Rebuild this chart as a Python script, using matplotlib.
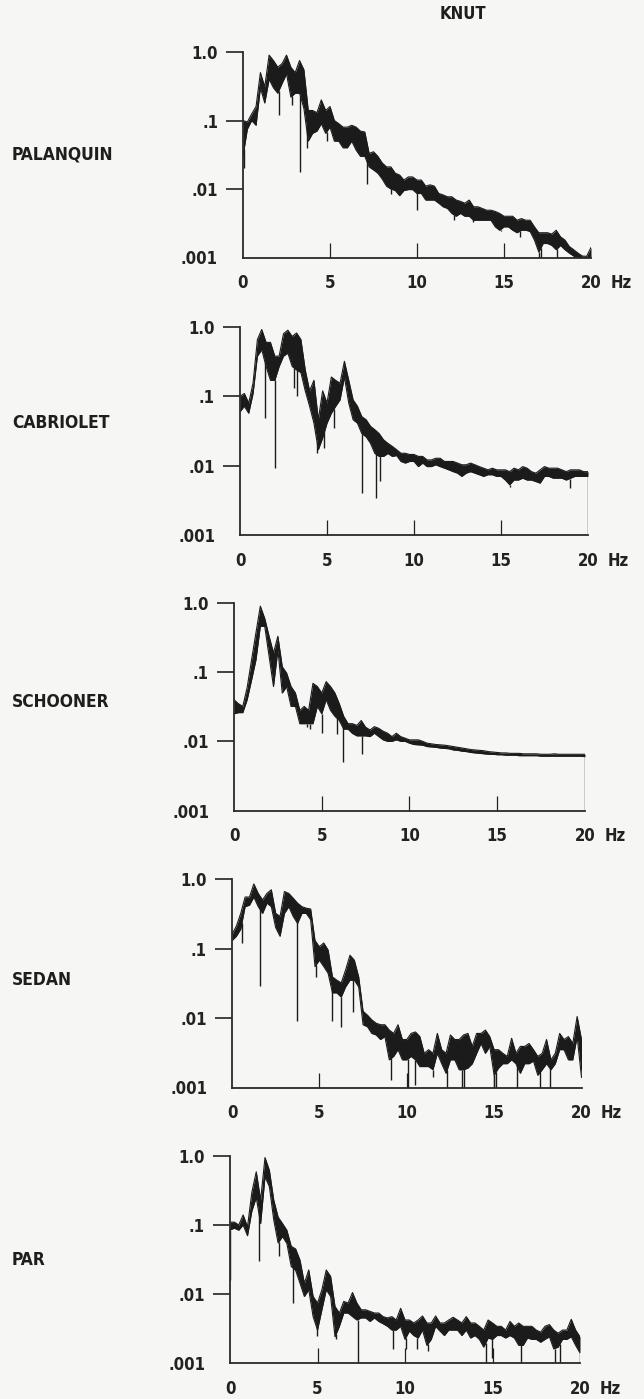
import numpy as np
import matplotlib.pyplot as plt
from matplotlib.ticker import NullLocator

plt.rcParams['font.family'] = ['DejaVu Sans']
plt.rcParams['font.stretch'] = 'condensed'
plt.rcParams['font.weight'] = 'bold'

INK = '#1b1b1b'
PAPER = '#f6f6f4'

# spectra sampled every 0.25 Hz from 0 to 20 Hz (one row per Hz)
freq = np.arange(81) * 0.25

palanquin_hi = [0.10, 0.095, 0.125, 0.16,
                0.50, 0.31, 0.90, 0.75,
                0.60, 0.68, 0.90, 0.60,
                0.50, 0.75, 0.55, 0.14,
                0.14, 0.13, 0.20, 0.14,
                0.16, 0.10, 0.09, 0.08,
                0.08, 0.085, 0.08, 0.07,
                0.068, 0.033, 0.035, 0.030,
                0.024, 0.021, 0.021, 0.017,
                0.016, 0.0135, 0.015, 0.015,
                0.0135, 0.0135, 0.011, 0.0115,
                0.011, 0.0086, 0.0082, 0.0077,
                0.0077, 0.0069, 0.0066, 0.0062,
                0.0069, 0.0055, 0.0055, 0.0052,
                0.0049, 0.0049, 0.0047, 0.0044,
                0.0040, 0.0040, 0.0040, 0.0035,
                0.0037, 0.0035, 0.0035, 0.0028,
                0.0023, 0.0023, 0.0023, 0.0022,
                0.0025, 0.0020, 0.0018, 0.00145,
                0.0013, 0.00116, 0.00105, 0.00104,
                0.0014]
palanquin_lo = [0.03, 0.075, 0.10, 0.085,
                0.30, 0.18, 0.40, 0.30,
                0.25, 0.35, 0.48, 0.22,
                0.25, 0.25, 0.15, 0.05,
                0.065, 0.07, 0.09, 0.065,
                0.08, 0.05, 0.05, 0.04,
                0.04, 0.05, 0.037, 0.03,
                0.03, 0.021, 0.019, 0.017,
                0.014, 0.011, 0.010, 0.0095,
                0.008, 0.0095, 0.0098, 0.0098,
                0.0086, 0.0086, 0.0069, 0.0069,
                0.0069, 0.0062, 0.0055, 0.0052,
                0.0044, 0.0040, 0.0044, 0.0040,
                0.0040, 0.0035, 0.0035, 0.0035,
                0.0035, 0.0035, 0.0028, 0.0025,
                0.0028, 0.0028, 0.0025, 0.0023,
                0.0025, 0.0025, 0.0024, 0.0018,
                0.0012, 0.0016, 0.0016, 0.0015,
                0.0013, 0.0015, 0.0013, 0.00116,
                0.00105, 0.001, 0.001, 0.001,
                0.001]
palanquin_dip_f = [0.05, 2.05, 2.8, 3.3, 3.65, 4.8, 7.1, 8.5, 10.0, 12.1,
                   13.2, 14.8, 15.9, 17.0, 17.1, 18.05, 19.0]
palanquin_dip_v = [0.02, 0.12, 0.17, 0.018, 0.04, 0.05, 0.012, 0.0085, 0.0049, 0.0035,
                   0.0033, 0.0024, 0.002, 0.001, 0.001, 0.001, 0.001]

cabriolet_hi = [0.10, 0.11, 0.08, 0.155,
                0.66, 0.92, 0.60, 0.60,
                0.38, 0.38, 0.80, 0.90,
                0.73, 0.82, 0.66, 0.24,
                0.12, 0.17, 0.046, 0.12,
                0.08, 0.19, 0.17, 0.155,
                0.32, 0.17, 0.089, 0.072,
                0.051, 0.046, 0.037, 0.033,
                0.029, 0.0236, 0.021, 0.019,
                0.017, 0.0151, 0.0151, 0.0145,
                0.0145, 0.0136, 0.0136, 0.0121,
                0.0121, 0.0128, 0.0128, 0.0115,
                0.0115, 0.0115, 0.0109, 0.0103,
                0.0103, 0.0109, 0.0103, 0.0097,
                0.0092, 0.0087, 0.0092, 0.0087,
                0.0087, 0.0087, 0.0082, 0.0092,
                0.0087, 0.0097, 0.0092, 0.0082,
                0.0078, 0.0087, 0.0097, 0.0092,
                0.0092, 0.0092, 0.0087, 0.0082,
                0.0087, 0.0087, 0.0087, 0.0082,
                0.0082]
cabriolet_lo = [0.06, 0.072, 0.057, 0.11,
                0.38, 0.47, 0.27, 0.17,
                0.17, 0.27, 0.38, 0.42,
                0.27, 0.24, 0.22, 0.12,
                0.072, 0.041, 0.017, 0.025,
                0.041, 0.057, 0.072, 0.089,
                0.19, 0.08, 0.046, 0.041,
                0.029, 0.026, 0.021, 0.015,
                0.0136, 0.0136, 0.015, 0.0136,
                0.014, 0.0115, 0.0109, 0.0115,
                0.0115, 0.0097, 0.0109, 0.0097,
                0.0097, 0.0103, 0.0097, 0.0092,
                0.0087, 0.0082, 0.0078, 0.0070,
                0.0078, 0.0082, 0.0078, 0.0074,
                0.0070, 0.0074, 0.0074, 0.0070,
                0.0070, 0.0062, 0.0053, 0.0062,
                0.0062, 0.0066, 0.0062, 0.0062,
                0.0059, 0.0056, 0.0070, 0.0070,
                0.0066, 0.0066, 0.0066, 0.0062,
                0.0066, 0.0070, 0.0070, 0.0070,
                0.0070]
cabriolet_dip_f = [1.45, 2.0, 3.1, 3.3, 4.45, 4.85, 5.4, 7.0, 7.8, 8.05,
                   15.5, 18.95, 20.0]
cabriolet_dip_v = [0.048, 0.0093, 0.13, 0.1, 0.015, 0.018, 0.035, 0.004, 0.0034, 0.006,
                   0.005, 0.0047, 0.001]

schooner_hi = [0.04, 0.035, 0.032, 0.06,
               0.15, 0.37, 0.90, 0.60,
               0.33, 0.19, 0.33, 0.12,
               0.097, 0.062, 0.050, 0.028,
               0.032, 0.028, 0.069, 0.062,
               0.050, 0.073, 0.062, 0.050,
               0.035, 0.023, 0.018, 0.018,
               0.017, 0.020, 0.016, 0.0146,
               0.0163, 0.0154, 0.0140, 0.0131,
               0.0117, 0.0131, 0.0117, 0.0111,
               0.0105, 0.0105, 0.0105, 0.0100,
               0.0094, 0.0092, 0.0090, 0.0089,
               0.0088, 0.0086, 0.0084, 0.0082,
               0.0080, 0.0078, 0.0076, 0.0075,
               0.0074, 0.0073, 0.0071, 0.0070,
               0.0069, 0.0068, 0.0068, 0.0067,
               0.0067, 0.0067, 0.0066, 0.0066,
               0.0066, 0.0066, 0.0065, 0.0065,
               0.0065, 0.0066, 0.0065, 0.0065,
               0.0065, 0.0065, 0.0065, 0.0065,
               0.0065]
schooner_lo = [0.025, 0.026, 0.026, 0.04,
               0.077, 0.15, 0.46, 0.46,
               0.17, 0.062, 0.21, 0.05,
               0.062, 0.032, 0.032, 0.018,
               0.018, 0.018, 0.018, 0.032,
               0.025, 0.040, 0.028, 0.023,
               0.020, 0.015, 0.015, 0.013,
               0.012, 0.012, 0.012, 0.0117,
               0.0131, 0.0117, 0.0105, 0.010,
               0.010, 0.0105, 0.010, 0.010,
               0.0094, 0.0090, 0.0089, 0.0088,
               0.0084, 0.0083, 0.0082, 0.0080,
               0.0079, 0.0078, 0.0075, 0.0074,
               0.0072, 0.0071, 0.0069, 0.0068,
               0.0067, 0.0066, 0.0065, 0.0065,
               0.0064, 0.0064, 0.0063, 0.0063,
               0.0063, 0.0062, 0.0062, 0.0062,
               0.0062, 0.0062, 0.0061, 0.0061,
               0.0061, 0.0061, 0.0061, 0.0061,
               0.0061, 0.0061, 0.0061, 0.0061,
               0.0060]
schooner_dip_f = [4.15, 4.35, 5.0, 5.85, 6.2, 7.3, 20.0]
schooner_dip_v = [0.016, 0.015, 0.013, 0.0126, 0.005, 0.0065, 0.001]

sedan_hi = [0.16, 0.21, 0.32, 0.55,
            0.55, 0.85, 0.62, 0.50,
            0.62, 0.70, 0.32, 0.29,
            0.66, 0.62, 0.53, 0.45,
            0.40, 0.38, 0.37, 0.13,
            0.106, 0.12, 0.095, 0.039,
            0.035, 0.032, 0.049, 0.080,
            0.068, 0.039, 0.0125, 0.011,
            0.0094, 0.0084, 0.0080, 0.0080,
            0.0067, 0.0060, 0.0080, 0.0049,
            0.0049, 0.0060, 0.0063, 0.0054,
            0.0031, 0.0035, 0.0031, 0.0060,
            0.0035, 0.0031, 0.0057, 0.0049,
            0.0049, 0.0057, 0.0060, 0.0039,
            0.0060, 0.0060, 0.0067, 0.0054,
            0.0035, 0.0035, 0.0031, 0.0028,
            0.0051, 0.0031, 0.0039, 0.0039,
            0.0043, 0.0035, 0.0028, 0.0031,
            0.0049, 0.0025, 0.0031, 0.0060,
            0.0049, 0.0054, 0.0043, 0.0105,
            0.0049]
sedan_lo = [0.13, 0.15, 0.19, 0.40,
            0.42, 0.55, 0.40, 0.32,
            0.45, 0.40, 0.20, 0.15,
            0.32, 0.40, 0.29, 0.23,
            0.32, 0.32, 0.26, 0.055,
            0.068, 0.055, 0.044, 0.023,
            0.023, 0.020, 0.028, 0.035,
            0.035, 0.028, 0.0080, 0.0075,
            0.0060, 0.0057, 0.0049, 0.0054,
            0.0025, 0.0028, 0.0035, 0.0025,
            0.0025, 0.0028, 0.0025, 0.0020,
            0.0020, 0.0020, 0.0018, 0.0031,
            0.0022, 0.0016, 0.0025, 0.0025,
            0.0018, 0.0018, 0.0019, 0.0022,
            0.0031, 0.0043, 0.0031, 0.0039,
            0.0015, 0.0019, 0.0022, 0.0022,
            0.0025, 0.0022, 0.0016, 0.0022,
            0.0022, 0.0024, 0.0015, 0.0018,
            0.0022, 0.0018, 0.0022, 0.0035,
            0.0035, 0.0025, 0.0025, 0.0054,
            0.0014]
sedan_dip_f = [0.55, 1.6, 3.7, 4.8, 5.7, 6.25, 6.9, 9.1, 10.05, 10.5,
               11.5, 12.3, 13.15, 13.3, 15.0, 15.1, 16.3, 17.65, 18.2]
sedan_dip_v = [0.12, 0.029, 0.009, 0.039, 0.009, 0.0075, 0.012, 0.0013, 0.001, 0.0011,
               0.0014, 0.001, 0.001, 0.001, 0.001, 0.001, 0.001, 0.001, 0.001]

par_hi = [0.11, 0.11, 0.10, 0.14,
          0.094, 0.30, 0.59, 0.23,
          0.95, 0.62, 0.23, 0.13,
          0.105, 0.084, 0.049, 0.045,
          0.031, 0.0143, 0.0223, 0.0092,
          0.0074, 0.0115, 0.0223, 0.018,
          0.0066, 0.0053, 0.0078, 0.0074,
          0.0105, 0.0074, 0.0059, 0.0059,
          0.0056, 0.0053, 0.0053, 0.0047,
          0.0045, 0.0047, 0.0042, 0.0062,
          0.0042, 0.0042, 0.0038, 0.0042,
          0.0048, 0.0038, 0.0038, 0.0048,
          0.0038, 0.0038, 0.0042, 0.0046,
          0.0042, 0.0038, 0.0047, 0.0038,
          0.0038, 0.0034, 0.0030, 0.0042,
          0.0038, 0.0034, 0.0034, 0.0030,
          0.0040, 0.0034, 0.0038, 0.0034,
          0.0034, 0.0034, 0.0030, 0.0028,
          0.0034, 0.0036, 0.0030, 0.0027,
          0.0030, 0.0030, 0.0043, 0.0030,
          0.0024]
par_lo = [0.085, 0.09, 0.084, 0.10,
          0.07, 0.16, 0.25, 0.105,
          0.50, 0.36, 0.118, 0.055,
          0.068, 0.054, 0.025, 0.022,
          0.0143, 0.0092, 0.0115, 0.0047,
          0.0030, 0.0059, 0.0115, 0.0092,
          0.0024, 0.0034, 0.0053, 0.0053,
          0.0047, 0.0042, 0.0045, 0.0045,
          0.0040, 0.0045, 0.0040, 0.0037,
          0.0034, 0.0030, 0.0030, 0.0034,
          0.0022, 0.0029, 0.0025, 0.0023,
          0.0030, 0.0018, 0.0022, 0.0034,
          0.0029, 0.0025, 0.0030, 0.0030,
          0.0030, 0.0025, 0.0030, 0.0023,
          0.0025, 0.0022, 0.0017, 0.0023,
          0.0022, 0.0025, 0.0025, 0.0023,
          0.0025, 0.0023, 0.0018, 0.0018,
          0.0023, 0.0022, 0.0022, 0.0020,
          0.0022, 0.0024, 0.0016, 0.0017,
          0.0022, 0.0022, 0.0024, 0.0018,
          0.0014]
par_dip_f = [0.0, 1.65, 2.8, 3.6, 4.95, 6.05, 7.3, 9.3, 10.05, 10.7,
             11.3, 14.6, 14.95, 16.6, 18.55, 18.85, 20.0]
par_dip_v = [0.016, 0.03, 0.036, 0.0073, 0.0025, 0.0022, 0.001, 0.0016, 0.0016, 0.0016,
             0.0015, 0.001, 0.0012, 0.001, 0.001, 0.001, 0.001]

names = ['PALANQUIN', 'CABRIOLET', 'SCHOONER', 'SEDAN', 'PAR']
spectra = [
    (palanquin_hi, palanquin_lo, palanquin_dip_f, palanquin_dip_v),
    (cabriolet_hi, cabriolet_lo, cabriolet_dip_f, cabriolet_dip_v),
    (schooner_hi, schooner_lo, schooner_dip_f, schooner_dip_v),
    (sedan_hi, sedan_lo, sedan_dip_f, sedan_dip_v),
    (par_hi, par_lo, par_dip_f, par_dip_v),
]

yticks = [0.001, 0.01, 0.1, 1.0]
ytick_labels = ['.001', '.01', '.1', '1.0']
xticks = [0, 5, 10, 15, 20]
xtick_labels = ['0', '5', '10', '15', '20']

# page layout in pixels: (left, right, top, bottom) of each plot box, label y
W, H = 644, 1399
boxes = [(243, 591, 52, 257.5),
         (240, 588, 327, 535),
         (234, 585, 603, 810.5),
         (232, 581.5, 879, 1087.5),
         (230, 580, 1156, 1363)]
label_y = [155, 423, 702, 980, 1260]

fig = plt.figure(figsize=(W / 100, H / 100), dpi=100)
fig.patch.set_facecolor(PAPER)

for name, (hi, lo, dip_f, dip_v), (l, r, t, b), ly in zip(names, spectra, boxes, label_y):
    ax = fig.add_axes([l / W, 1 - b / H, (r - l) / W, (b - t) / H])
    ax.set_facecolor('none')
    hi = np.array(hi)
    lo = np.array(lo)

    ax.fill_between(freq, lo, hi, color=INK, lw=0)
    ax.plot(freq, hi, color=INK, lw=0.8)
    ax.plot(freq, lo, color=INK, lw=0.8)
    # narrow drop-outs below the band
    ax.vlines(dip_f, dip_v, np.interp(dip_f, freq, lo), color=INK, lw=1.0)

    ax.set_yscale('log')
    ax.set_xlim(0, 20)
    ax.set_ylim(0.001, 1.0)
    ax.yaxis.set_minor_locator(NullLocator())
    ax.set_yticks(yticks)
    ax.set_yticklabels(ytick_labels)
    ax.set_xticks(xticks)
    ax.set_xticklabels(xtick_labels)

    for side in ['top', 'right']:
        ax.spines[side].set_visible(False)
    for side in ['left', 'bottom']:
        ax.spines[side].set_color('#2a2a2a')
        ax.spines[side].set_linewidth(1.3)

    ax.tick_params(axis='y', direction='out', length=12, width=1.2, pad=6,
                   labelsize=12, colors='#222222')
    ax.tick_params(axis='x', direction='in', length=11, width=0.9, pad=12,
                   labelsize=12, colors='#222222')
    ax.yaxis.get_major_ticks()[0].tick1line.set_visible(False)
    xt = ax.xaxis.get_major_ticks()
    xt[0].tick1line.set_visible(False)
    xt[-1].tick1line.set_visible(False)

    ax.annotate('Hz', xy=(20, 0), xycoords=('data', 'axes fraction'),
                xytext=(14, -12), textcoords='offset points',
                ha='left', va='top', fontsize=12, color='#222222')

    fig.text(12 / W, 1 - ly / H, name, ha='left', va='center',
             fontsize=12.5, color='#1e1e1e')

fig.text(463 / W, 1 - 14 / H, 'KNUT', ha='center', va='center',
         fontsize=12, color='#1e1e1e')

fig.savefig('out.png', dpi=100, facecolor=fig.get_facecolor())
